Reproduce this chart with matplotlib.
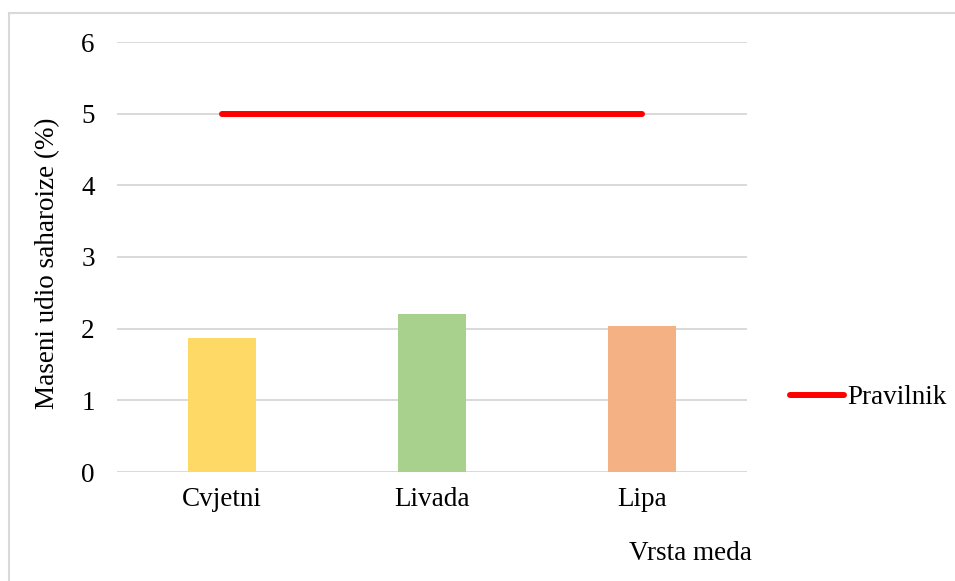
import matplotlib
matplotlib.use("Agg")
import matplotlib.pyplot as plt
from matplotlib.patches import Rectangle
from matplotlib.lines import Line2D

categories = ["Cvjetni", "Livada", "Lipa"]
values = [1.87, 2.21, 2.04]
limit_values = [5, 5, 5]
bar_colors = ["#FFD966", "#A9D18E", "#F4B183"]
yticks = [0, 1, 2, 3, 4, 5, 6]

plt.rcParams['font.family'] = ['Liberation Serif', 'DejaVu Serif']
FS = 19.5

fig = plt.figure(figsize=(9.55, 5.81), dpi=100)
W, H = 955, 581
ax = fig.add_axes([117 / W, 1 - 472 / H, (747 - 117) / W, (472 - 42) / H])

x = list(range(len(categories)))
ax.bar(x, values, width=0.325, color=bar_colors, zorder=2)
ax.plot(x, limit_values, color="#FF0000", lw=4.3, solid_capstyle="round", zorder=3)

ax.set_xlim(-0.5, 2.5)
ax.set_ylim(0, 6)
ax.set_yticks(yticks)
ax.set_xticks(x)
ax.set_xticklabels(categories)
ax.grid(axis="y", color="#D9D9D9", lw=1.4, zorder=0)
ax.set_axisbelow(True)
for s in ax.spines.values():
    s.set_visible(False)
ax.tick_params(axis="both", length=0, labelsize=FS, colors="black")
ax.tick_params(axis="y", pad=16)
ax.tick_params(axis="x", pad=11)

fig.text(48 / W, 1 - 263 / H, "Maseni udio saharoize (%)", rotation=90,
         ha="center", va="center", fontsize=FS)
fig.text(752 / W, 1 - 553 / H, "Vrsta meda", ha="right", va="center", fontsize=FS)

handle = Line2D([], [], color="#FF0000", lw=4.3, solid_capstyle="round")
fig.legend([handle], ["Pravilnik"], loc="center left",
           bbox_to_anchor=(790 / W, 1 - 398 / H), frameon=False, fontsize=FS,
           handlelength=2.0, handletextpad=0.1, borderpad=0, borderaxespad=0)

fig.patches.append(Rectangle((9 / W, -0.1), 1.2, 1 - 13 / H + 0.1,
                             transform=fig.transFigure, fill=False,
                             edgecolor="#D9D9D9", lw=1.5, zorder=0))

fig.savefig("out.png", dpi=100)
